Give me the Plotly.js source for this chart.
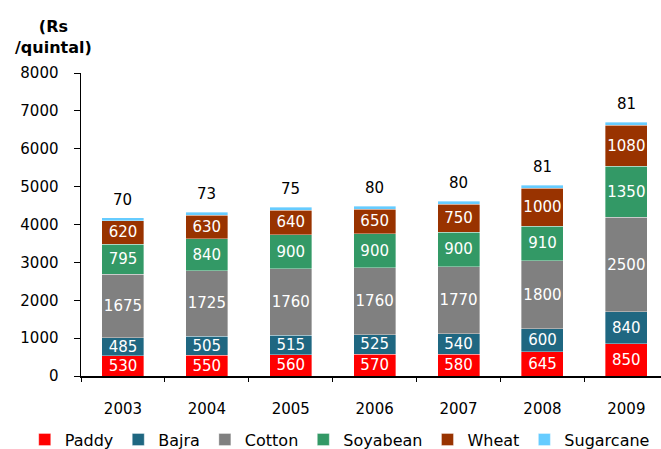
<!DOCTYPE html>
<html>
<head>
<meta charset="utf-8">
<script src="https://cdn.plot.ly/plotly-3.0.1.min.js"></script>
<style>
  html, body { margin: 0; padding: 0; background: #fff; }
  #chart { width: 661px; height: 449px; }
</style>
</head>
<body>
<div id="chart"></div>
<script>
// Minimum support prices by crop (Rs/quintal)
const years     = ['2003', '2004', '2005', '2006', '2007', '2008', '2009'];
const paddy     = [530, 550, 560, 570, 580, 645, 850];
const bajra     = [485, 505, 515, 525, 540, 600, 840];
const cotton    = [1675, 1725, 1760, 1760, 1770, 1800, 2500];
const soyabean  = [795, 840, 900, 900, 900, 910, 1350];
const wheat     = [620, 630, 640, 650, 750, 1000, 1080];
const sugarcane = [70, 73, 75, 80, 80, 81, 81];

const FONT = 'DejaVu Sans, Verdana, sans-serif';

const series = [
  { name: 'Paddy',     y: paddy,     color: '#FF0000' },
  { name: 'Bajra',     y: bajra,     color: '#1F6781' },
  { name: 'Cotton',    y: cotton,    color: '#808080' },
  { name: 'Soyabean',  y: soyabean,  color: '#339966' },
  { name: 'Wheat',     y: wheat,     color: '#993300' },
  { name: 'Sugarcane', y: sugarcane, color: '#66CCFF' }
];

const traces = series.map(function (s, i) {
  const top = i === series.length - 1;
  return {
    type: 'bar',
    name: s.name,
    x: years,
    y: s.y,
    width: 0.5,
    marker: { color: s.color, line: { color: 'rgba(255,255,255,0.45)', width: 0.8 } },
    text: top ? null : s.y.map(String),
    textposition: top ? 'none' : 'inside',
    insidetextanchor: 'middle',
    textangle: 0,
    constraintext: 'none',
    textfont: { family: FONT, size: 15, color: '#FFFFFF' },
    hoverinfo: 'name+y'
  };
});

// Sugarcane values sit above each stack
const totals = years.map(function (_, k) {
  return series.reduce(function (acc, s) { return acc + s.y[k]; }, 0);
});
const topLabels = years.map(function (yr, k) {
  return {
    x: k, y: totals[k], xref: 'x', yref: 'y',
    text: String(sugarcane[k]), showarrow: false,
    xanchor: 'center', yanchor: 'bottom', yshift: 7,
    font: { family: FONT, size: 15, color: '#000000' }
  };
});

const layout = {
  width: 661,
  height: 449,
  margin: { l: 81, r: 0, t: 73, b: 73, autoexpand: false },
  paper_bgcolor: '#FFFFFF',
  plot_bgcolor: '#FFFFFF',
  barmode: 'stack',
  font: { family: FONT, size: 15, color: '#000000' },
  showlegend: true,
  legend: {
    orientation: 'h',
    x: -0.097, xanchor: 'left',
    y: -0.21, yanchor: 'middle',
    font: { family: FONT, size: 16, color: '#000000' },
    traceorder: 'normal',
    itemwidth: 30
  },
  xaxis: {
    type: 'category',
    range: [-0.5, 6.413],
    showline: true, linecolor: '#000000', linewidth: 1.5,
    ticks: 'outside', tickson: 'boundaries', ticklen: 4, tickcolor: '#000000',
    ticklabelstandoff: 18,
    tickfont: { family: FONT, size: 15, color: '#000000' },
    showgrid: false, zeroline: false
  },
  yaxis: {
    range: [0, 8000],
    tickvals: [0, 1000, 2000, 3000, 4000, 5000, 6000, 7000, 8000],
    showline: true, linecolor: '#000000', linewidth: 1.5,
    ticks: 'outside', ticklen: 6, tickcolor: '#000000',
    ticklabelstandoff: 12,
    tickfont: { family: FONT, size: 15, color: '#000000' },
    showgrid: false, zeroline: false
  },
  annotations: [
    {
      xref: 'paper', yref: 'paper', x: -0.047, y: 1.19,
      xanchor: 'center', yanchor: 'top', align: 'center',
      text: '<b>(Rs<br>/quintal)</b>', showarrow: false,
      font: { family: FONT, size: 16, color: '#000000' }
    }
  ].concat(topLabels)
};

Plotly.newPlot('chart', traces, layout, { displayModeBar: false, staticPlot: true });
</script>
</body>
</html>
